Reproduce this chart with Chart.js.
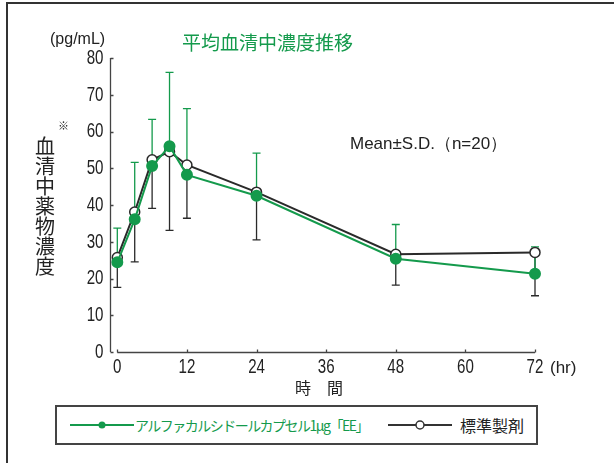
<!DOCTYPE html>
<html>
<head>
<meta charset="utf-8">
<script src="https://cdn.jsdelivr.net/npm/chart.js@4.4.0/dist/chart.umd.min.js"></script>
<style>
  html, body { margin: 0; padding: 0; background: #fff; overflow: hidden; }
  body { width: 614px; height: 463px; position: relative; font-family: "Noto Sans CJK JP", sans-serif; color: #222; }
  #frame { position: absolute; left: 6px; top: 2px; width: 700px; height: 600px; border: 2px solid #333; box-sizing: border-box; }
  #wrap { position: absolute; left: 0; top: 0; width: 614px; height: 463px; }
  .txt { position: absolute; white-space: nowrap; }
  .num { font-family: "Liberation Sans", sans-serif; }
  #legend { position: absolute; left: 55px; top: 405px; width: 483px; height: 40px; border: 2px solid #444; box-sizing: border-box; background: #fff; }
</style>
</head>
<body>
<div id="frame"></div>
<div id="wrap"><canvas id="pkChart" width="614" height="463"></canvas></div>

<div class="txt" style="left:182px; top:28px; font-size:19px; color:#149a4c;">平均血清中濃度推移</div>
<div class="txt num" style="left:50px; top:30px; font-size:16px;">(pg/mL)</div>
<div class="txt" style="left:58px; top:117px; font-size:11px;">※</div>
<div class="txt" style="left:34px; top:136px; font-size:20px; line-height:20px; width:22px; white-space:normal; text-align:center;">血<br>清<br>中<br>薬<br>物<br>濃<br>度</div>
<div class="txt num" style="left:350px; top:132px; font-size:17px;">Mean±S.D.（n=20）</div>
<div class="txt num" style="left:550px; top:358px; font-size:17px;">(hr)</div>
<div class="txt" style="left:295px; top:375px; font-size:16px;">時　間</div>

<div id="legend">
  <svg style="position:absolute; left:11px; top:8px;" width="70" height="20">
    <line x1="2" y1="10" x2="66" y2="10" stroke="#149a4c" stroke-width="2"/>
    <circle cx="34" cy="10" r="3.5" fill="#149a4c"/>
  </svg>
  <div class="txt" style="left:78px; top:8px; font-size:14px; color:#149a4c; letter-spacing:-1.5px;">アルファカルシドールカプセル1μg「EE」</div>
  <svg style="position:absolute; left:329px; top:8px;" width="70" height="20">
    <line x1="2" y1="10" x2="66" y2="10" stroke="#333" stroke-width="2"/>
    <circle cx="34" cy="10" r="4" fill="#fff" stroke="#333" stroke-width="1.5"/>
  </svg>
  <div class="txt" style="left:403px; top:6px; font-size:16px;">標準製剤</div>
</div>

<script>
// ---- データ ----
const hours     = [0, 3, 6, 9, 12, 24, 48, 72];
const testMean  = [24.4, 36.1, 50.6, 56.0, 48.2, 42.5, 25.4, 21.3];
const testSD    = [9.3, 15.5, 12.7, 20.1, 18.0, 11.6, 9.3, 7.3];
const refMean   = [25.7, 38.1, 52.3, 54.5, 50.9, 43.5, 26.6, 27.1];
const refSD     = [8.1, 13.6, 13.2, 21.4, 14.5, 13.0, 8.4, 11.8];
const xTicks    = [0, 12, 24, 36, 48, 60, 72];
const yTicks    = [0, 10, 20, 30, 40, 50, 60, 70, 80];

const GREEN = "#149a4c";
const DARK  = "#2a2a2a";

// 細長い数字ラベル (condensed)
function drawNarrow(ctx, text, x, y, align) {
    ctx.save();
    ctx.translate(x, y);
    ctx.scale(0.72, 1);
    ctx.textAlign = align;
    ctx.fillText(text, 0, 0);
    ctx.restore();
}

// ---- エラーバー + 軸 ----
const errorBars = {
    id: "errorBars",
    beforeDatasetsDraw(chart) {
        const ctx = chart.ctx;
        const x = chart.scales.x, y = chart.scales.y;
        const cap = 4;
        ctx.save();
        ctx.lineWidth = 1.3;
        // 標準製剤: 下側
        ctx.strokeStyle = DARK;
        hours.forEach((h, i) => {
            const px = x.getPixelForValue(h);
            const y0 = y.getPixelForValue(refMean[i]);
            const y1 = y.getPixelForValue(refMean[i] - refSD[i]);
            ctx.beginPath();
            ctx.moveTo(px, y0); ctx.lineTo(px, y1);
            ctx.moveTo(px - cap, y1); ctx.lineTo(px + cap, y1);
            ctx.stroke();
        });
        // 試験製剤: 上側
        ctx.strokeStyle = GREEN;
        hours.forEach((h, i) => {
            const px = x.getPixelForValue(h);
            const y0 = y.getPixelForValue(testMean[i]);
            const y1 = y.getPixelForValue(testMean[i] + testSD[i]);
            ctx.beginPath();
            ctx.moveTo(px, y0); ctx.lineTo(px, y1);
            ctx.moveTo(px - cap, y1); ctx.lineTo(px + cap, y1);
            ctx.stroke();
        });
        ctx.restore();
    },
    afterDraw(chart) {
        const ctx = chart.ctx;
        const x = chart.scales.x, y = chart.scales.y;
        const area = chart.chartArea;
        ctx.save();
        ctx.strokeStyle = "#444";
        ctx.lineWidth = 1.3;
        // Y軸
        const ax = Math.round(area.left) + 0.5;
        ctx.beginPath();
        ctx.moveTo(ax, y.getPixelForValue(80));
        ctx.lineTo(ax, y.getPixelForValue(0));
        yTicks.forEach(v => {
            const py = Math.round(y.getPixelForValue(v)) + 0.5;
            ctx.moveTo(ax, py); ctx.lineTo(ax + 3, py);
        });
        ctx.stroke();
        // X軸
        const ay = Math.round(y.getPixelForValue(0)) + 0.5;
        ctx.beginPath();
        ctx.moveTo(x.getPixelForValue(0), ay);
        ctx.lineTo(x.getPixelForValue(72), ay);
        xTicks.forEach(v => {
            const px = Math.round(x.getPixelForValue(v)) + 0.5;
            ctx.moveTo(px, ay); ctx.lineTo(px, ay - 3);
        });
        ctx.stroke();

        // 目盛ラベル
        ctx.fillStyle = "#222";
        ctx.font = "21px 'Liberation Sans', sans-serif";
        ctx.textBaseline = "middle";
        yTicks.forEach(v => drawNarrow(ctx, String(v), ax - 7, y.getPixelForValue(v), "right"));
        xTicks.forEach(v => drawNarrow(ctx, String(v), x.getPixelForValue(v), ay + 15, "center"));
        ctx.restore();
    }
};

new Chart(document.getElementById("pkChart"), {
    type: "line",
    data: {
        datasets: [
            {
                label: "アルファカルシドールカプセル1μg「EE」",
                data: hours.map((h, i) => ({ x: h, y: testMean[i] })),
                borderColor: GREEN,
                backgroundColor: GREEN,
                pointBackgroundColor: GREEN,
                pointBorderColor: GREEN,
                pointRadius: 5,
                borderWidth: 2,
                clip: false
            },
            {
                label: "標準製剤",
                data: hours.map((h, i) => ({ x: h, y: refMean[i] })),
                borderColor: DARK,
                backgroundColor: "#fff",
                pointBackgroundColor: "#fff",
                pointBorderColor: DARK,
                pointBorderWidth: 1.5,
                pointRadius: 5,
                borderWidth: 2,
                clip: false
            }
        ]
    },
    options: {
        responsive: false,
        animation: false,
        layout: { padding: { left: 0, top: 58, right: 79, bottom: 0 } },
        plugins: {
            legend: { display: false },
            tooltip: { enabled: false }
        },
        scales: {
            x: {
                type: "linear",
                min: -1.26,
                max: 72,
                grid: { display: false },
                border: { display: false },
                afterBuildTicks: s => { s.ticks = xTicks.map(v => ({ value: v })); },
                afterFit: s => { s.height = 111; },
                ticks: { display: false }
            },
            y: {
                min: 0,
                max: 80,
                grid: { display: false },
                border: { display: false },
                afterBuildTicks: s => { s.ticks = yTicks.map(v => ({ value: v })); },
                afterFit: s => { s.width = 110; },
                ticks: { display: false }
            }
        }
    },
    plugins: [errorBars]
});
</script>
</body>
</html>
